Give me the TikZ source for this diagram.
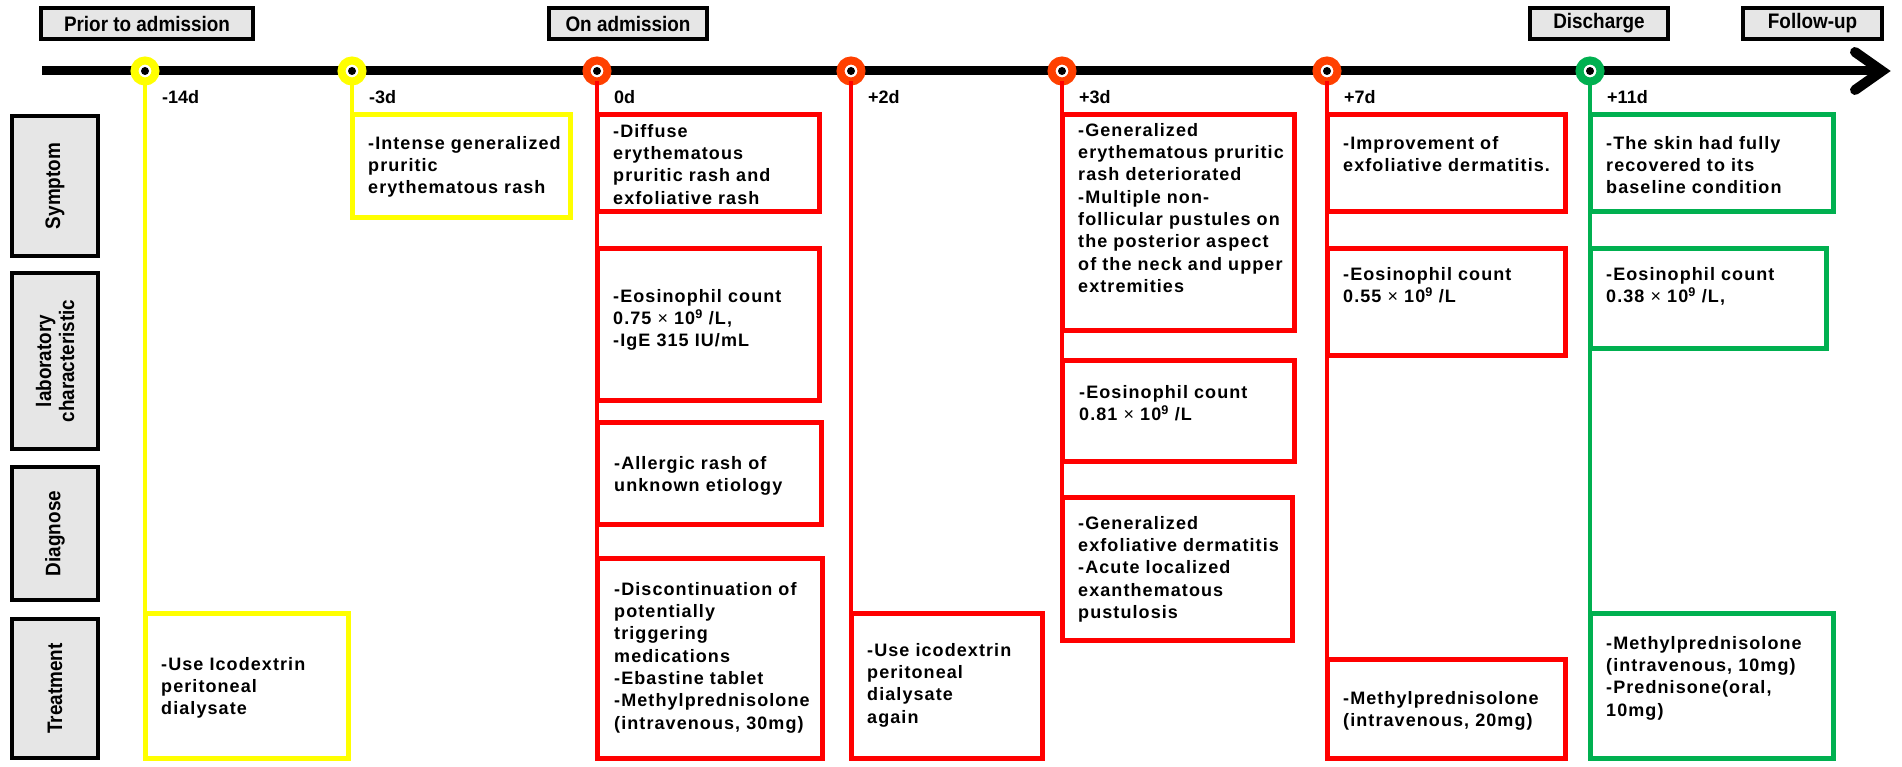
\documentclass[tikz,border=0pt]{standalone}
\usepackage{fontspec}
\setmainfont{Liberation Sans}
\newfontfamily\bodyfont[LetterSpace=6]{Liberation Sans}
\newfontfamily\headfont[FakeStretch=0.9]{Liberation Sans}
\definecolor{ylw}{HTML}{FFFF00}
\definecolor{rng}{HTML}{FF4000}
\definecolor{rd}{HTML}{FF0000}
\definecolor{grn}{HTML}{00B050}
\definecolor{gry}{HTML}{E6E6E6}
\tikzset{
  hdr/.style={draw=black, fill=gry, line width=4pt, inner sep=0pt, outer sep=0pt, minimum height=31pt, anchor=north west, font=\headfont\bfseries\fontsize{21}{24}\selectfont},
  catbox/.style={draw=black, fill=gry, line width=4pt, inner sep=0pt, outer sep=0pt, anchor=north west},
  cattxt/.style={rotate=90, align=center, inner sep=0pt, font=\headfont\bfseries\fontsize{21}{23}\selectfont},
  ring/.style={circle, minimum size=21pt, line width=8pt, fill=white, inner sep=0pt, outer sep=0pt},
  daylbl/.style={anchor=west, inner sep=0pt, font=\bfseries\fontsize{18}{20}\selectfont},
  evbox/.style={line width=5pt, inner sep=0pt, outer sep=0pt, anchor=north west, fill=white},
  evtxt/.style={anchor=north west, align=left, inner sep=0pt, yshift=-3pt, font=\bodyfont\bfseries\fontsize{18}{22.3}\selectfont},
  vline/.style={line width=4.5pt},
}
\newcommand\tms{\ {\mdseries\texttimes}\ }
\begin{document}
\begin{tikzpicture}[x=1pt,y=-1pt]
\useasboundingbox (0,0) rectangle (1902,767);
\fill[white] (0,0) rectangle (1902,767);
% headers
\node[hdr, minimum width=212pt] (hPrior) at (41,8) {Prior to admission};
\node[hdr, minimum width=158pt] (hAdm) at (549,8) {On admission};
\node[hdr, minimum width=138pt] (hDis) at (1530,8) {Discharge};
\node[hdr, minimum width=139pt] (hFol) at (1743,8) {Follow-up};
% timeline
\coordinate (tlA) at (42,71);
\coordinate (tlB) at (1882,71);
\coordinate (arU) at (1855,52);
\coordinate (arD) at (1855,90);
\draw[line width=9pt] (tlA) -- (tlB);
\draw[line width=10pt, miter limit=10, line cap=round] (arU) -- (tlB) -- (arD);
% category boxes
\node[catbox, minimum width=86pt, minimum height=140pt] (kSym) at (12,116) {};
\node[catbox, minimum width=86pt, minimum height=176pt] (kLab) at (12,273) {};
\node[catbox, minimum width=86pt, minimum height=133pt] (kDia) at (12,467) {};
\node[catbox, minimum width=86pt, minimum height=139pt] (kTre) at (12,619) {};
\node[cattxt] (tSym) at (kSym.center) {Symptom};
\node[cattxt] (tLab) at (kLab.center) {laboratory\\characteristic};
\node[cattxt] (tDia) at (kDia.center) {Diagnose};
\node[cattxt] (tTre) at (kTre.center) {Treatment};
% rings
\node[ring, draw=ylw] (cA) at (145,71) {};
\node[ring, draw=ylw] (cB) at (352,71) {};
\node[ring, draw=rng] (cC) at (597,71) {};
\node[ring, draw=rng] (cD) at (851,71) {};
\node[ring, draw=rng] (cE) at (1062,71) {};
\node[ring, draw=rng] (cF) at (1327,71) {};
\node[ring, draw=grn] (cG) at (1590,71) {};
\foreach \c in {cA,cB,cC,cD,cE,cF,cG}{\fill (\c.center) circle (4pt);}
% day labels
\node[daylbl] (dA) at (162,97) {-14d};
\node[daylbl] (dB) at (369,97) {-3d};
\node[daylbl] (dC) at (614,97) {0d};
\node[daylbl] (dD) at (868,97) {+2d};
\node[daylbl] (dE) at (1079,97) {+3d};
\node[daylbl] (dF) at (1344,97) {+7d};
\node[daylbl] (dG) at (1607,97) {+11d};
% -14d
\node[evbox, draw=ylw, minimum width=203pt, minimum height=145pt] (bA4) at (145,613) {};
\draw[vline, ylw] (cA.south) -- (cA.south |- bA4.north west);
\node[evtxt] (xA4) at (161,654) {-Use Icodextrin\\peritoneal\\dialysate};
% -3d
\node[evbox, draw=ylw, minimum width=218pt, minimum height=103pt] (bB1) at (352,115) {};
\draw[vline, ylw] (cB.south) -- (cB.south |- bB1.north west);
\node[evtxt] (xB1) at (368,133) {-Intense generalized\\pruritic\\erythematous rash};
% 0d
\draw[vline, rd] (cC.south) -- (597,740);
\node[evbox, draw=rd, minimum width=222pt, minimum height=97pt] (bC1) at (597,115) {};
\node[evbox, draw=rd, minimum width=222pt, minimum height=151pt] (bC2) at (597,249) {};
\node[evbox, draw=rd, minimum width=224pt, minimum height=102pt] (bC3) at (597,422) {};
\node[evbox, draw=rd, minimum width=225pt, minimum height=200pt] (bC4) at (597,558) {};
\node[evtxt] (xC1) at (613,121) {-Diffuse\\erythematous\\pruritic rash and\\exfoliative rash};
\node[evtxt] (xC2) at (613,286) {-Eosinophil count\\0.75\tms10\textsuperscript{9} /L,\\-IgE 315 IU/mL};
\node[evtxt] (xC3) at (614,453) {-Allergic rash of\\unknown etiology};
\node[evtxt] (xC4) at (614,579) {-Discontinuation of\\potentially\\triggering\\medications\\-Ebastine tablet\\-Methylprednisolone\\(intravenous, 30mg)};
% +2d
\node[evbox, draw=rd, minimum width=191pt, minimum height=145pt] (bD4) at (851,613) {};
\draw[vline, rd] (cD.south) -- (cD.south |- bD4.north west);
\node[evtxt] (xD4) at (867,640) {-Use icodextrin\\peritoneal\\dialysate\\again};
% +3d
\node[evbox, draw=rd, minimum width=232pt, minimum height=215pt] (bE1) at (1062,115) {};
\node[evbox, draw=rd, minimum width=232pt, minimum height=101pt] (bE2) at (1062,360) {};
\node[evbox, draw=rd, minimum width=230pt, minimum height=143pt] (bE3) at (1062,497) {};
\draw[vline, rd] (cE.south) -- (cE.south |- bE3.north west);
\node[evtxt] (xE1) at (1078,120) {-Generalized\\erythematous pruritic\\rash deteriorated\\-Multiple non-\\follicular pustules on\\the posterior aspect\\of the neck and upper\\extremities};
\node[evtxt] (xE2) at (1079,382) {-Eosinophil count\\0.81\tms10\textsuperscript{9} /L};
\node[evtxt] (xE3) at (1078,513) {-Generalized\\exfoliative dermatitis\\-Acute localized\\exanthematous\\pustulosis};
% +7d
\node[evbox, draw=rd, minimum width=238pt, minimum height=97pt] (bF1) at (1327,115) {};
\node[evbox, draw=rd, minimum width=238pt, minimum height=106pt] (bF2) at (1327,249) {};
\node[evbox, draw=rd, minimum width=238pt, minimum height=99pt] (bF4) at (1327,659) {};
\draw[vline, rd] (cF.south) -- (cF.south |- bF4.north west);
\node[evtxt] (xF1) at (1343,133) {-Improvement of\\exfoliative dermatitis.};
\node[evtxt] (xF2) at (1343,264) {-Eosinophil count\\0.55\tms10\textsuperscript{9} /L};
\node[evtxt] (xF4) at (1343,688) {-Methylprednisolone\\(intravenous, 20mg)};
% +11d
\node[evbox, draw=grn, minimum width=243pt, minimum height=97pt] (bG1) at (1590,115) {};
\node[evbox, draw=grn, minimum width=236pt, minimum height=99pt] (bG2) at (1590,249) {};
\node[evbox, draw=grn, minimum width=243pt, minimum height=145pt] (bG4) at (1590,613) {};
\draw[vline, grn] (cG.south) -- (cG.south |- bG4.north west);
\node[evtxt] (xG1) at (1606,133) {-The skin had fully\\recovered to its\\baseline condition};
\node[evtxt] (xG2) at (1606,264) {-Eosinophil count\\0.38\tms10\textsuperscript{9} /L,};
\node[evtxt] (xG4) at (1606,633) {-Methylprednisolone\\(intravenous, 10mg)\\-Prednisone(oral,\\10mg)};
\end{tikzpicture}
\end{document}
